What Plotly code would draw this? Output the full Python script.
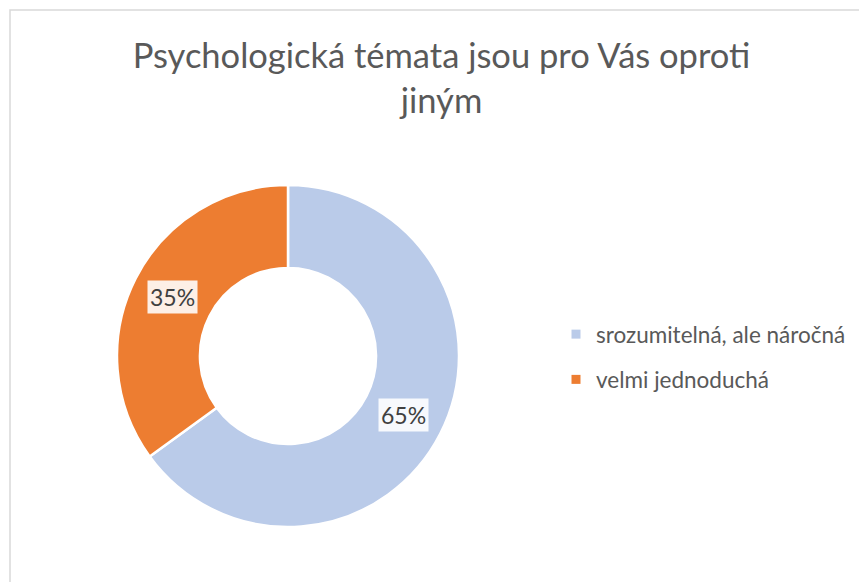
import math
import plotly.graph_objects as go

title_text = "Psychologická témata jsou pro Vás oproti<br>jiným"
labels = ["srozumitelná, ale náročná", "velmi jednoduchá"]
values = [65, 35]
colors = ["#BACBE9", "#ED7D31"]

W, H = 867, 582
OFF = 8  # page body margin of the browser
cx, cy, R = 288 - OFF, 356 - OFF, 171  # pixel center / radius of the donut (figure coords)
hole = 0.515

dom_x = [(cx - R) / W, (cx + R) / W]
dom_y = [(H - cy - R) / H, (H - cy + R) / H]

fig = go.Figure()
fig.add_trace(go.Pie(
    labels=labels,
    values=values,
    hole=hole,
    sort=False,
    direction="clockwise",
    rotation=0,
    marker=dict(colors=colors, line=dict(color="white", width=2.5)),
    textinfo="none",
    hoverinfo="label+percent",
    domain=dict(x=dom_x, y=dom_y),
    showlegend=False,
))

# legend entries (separate so that the item spacing can be matched)
for lab, col in zip(labels, colors):
    fig.add_trace(go.Scatter(
        x=[None], y=[None], mode="markers", name=lab, legendgroup=lab,
        marker=dict(symbol="square", size=9, color=col),
        showlegend=True, hoverinfo="skip",
    ))

# data labels, positioned from the slice angles
total = sum(values)
cum = 0
annotations = []
rmid = R * (1 + hole) / 2
for v in values:
    mid = (cum + v / 2) / total * 2 * math.pi
    cum += v
    px = cx + rmid * math.sin(mid)
    py = cy - rmid * math.cos(mid)
    annotations.append(dict(
        x=px / W, y=1 - py / H, xref="paper", yref="paper",
        xanchor="center", yanchor="middle",
        text=f"{round(v / total * 100)}%", showarrow=False,
        font=dict(family="Lato, sans-serif", size=23, color="#404040"),
        bgcolor="rgba(255,255,255,0.88)", borderpad=2,
    ))

fig.update_layout(
    width=W, height=H,
    margin=dict(l=0, r=0, t=0, b=0),
    paper_bgcolor="white",
    plot_bgcolor="white",
    xaxis=dict(visible=False),
    yaxis=dict(visible=False),
    title=dict(
        text=title_text,
        x=0.5, xanchor="center",
        y=1 - 60 / H, yanchor="top",
        font=dict(family="Lato, sans-serif", size=34.5, color="#595959"),
    ),
    legend=dict(
        x=548 / W, y=1 - 305 / H, xanchor="left", yanchor="top",
        font=dict(family="Lato, sans-serif", size=22.5, color="#595959"),
        tracegroupgap=13,
        bgcolor="rgba(0,0,0,0)",
    ),
    annotations=annotations,
    shapes=[dict(
        type="rect", xref="paper", yref="paper",
        x0=(10 - OFF) / W, x1=1.2, y0=-0.2, y1=1 - (10 - OFF) / H,
        line=dict(color="#D9D9D9", width=1.5), fillcolor="rgba(0,0,0,0)",
        layer="below",
    )],
)

fig.write_html("out.html")
